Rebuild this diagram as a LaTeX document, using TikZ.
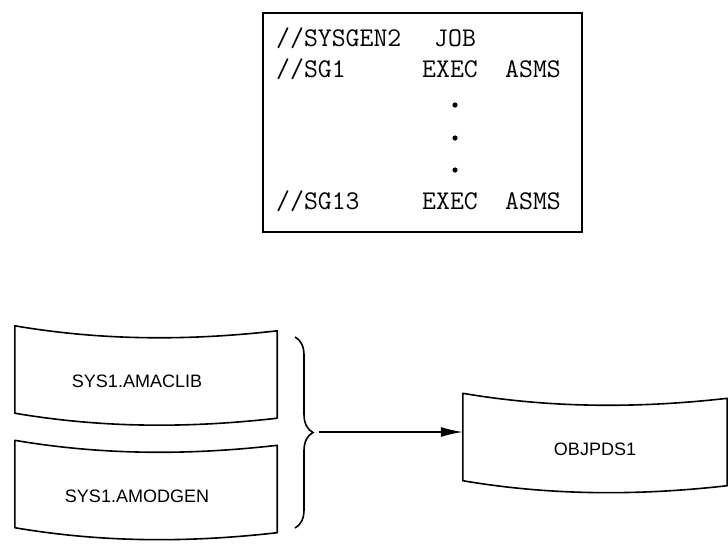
\documentclass[tikz,border=0pt]{standalone}
\usepackage{fontspec}
\setmainfont{Liberation Sans}
\usetikzlibrary{calc,arrows.meta,decorations.pathreplacing}

% outline of a data set card: curved top and bottom edges
\newcommand{\cardoutline}[1]{%
  \draw[cardline] ($(#1.north west)+(0,-12)$) .. controls +(88,15) and +(-88,10) .. ($(#1.north east)+(0,-7)$)
    -- ($(#1.south east)+(0,-7)$) .. controls +(-88,10) and +(88,15) .. ($(#1.south west)+(0,-12)$) -- cycle;}

\begin{document}
\begin{tikzpicture}[x=1pt, y=-1pt,
                    jclbox/.style={draw, line width=1.4pt, minimum width=319pt, minimum height=219pt},
                    jcl/.style={anchor=base west, inner sep=0pt, font=\ttfamily\fontsize{27}{28}\selectfont},
                    card/.style={minimum width=262pt, minimum height=87pt, inner sep=0pt, font=\fontsize{18}{18}\selectfont},
                    cardline/.style={line width=1.6pt, line join=round},
                    flow/.style={line width=1.4pt, -{Latex[length=22pt, width=10pt]}}]
\useasboundingbox (0,0) rectangle (728,550);

% job stream
\node[jclbox] (job) at (422.5,122.5) {};
\node[jcl] (l1a) at (276,46) {//SYSGEN2};
\node[jcl] (l1b) at (434,46) {JOB};
\node[jcl] (l2a) at (276,77) {//SG1};
\node[jcl] (l2b) at (422,77) {EXEC};
\node[jcl] (l2c) at (505,77) {ASMS};
\node[jcl] (l3a) at (276,209) {//SG13};
\node[jcl] (l3b) at (422,209) {EXEC};
\node[jcl] (l3c) at (505,209) {ASMS};
\foreach \y in {105,138,170}
    \fill (455,\y) circle (2.6pt);

% data sets
\node[card] (amaclib) at (146,381.5) {\hspace*{-18pt}SYS1.AMACLIB};
\node[card] (amodgen) at (146,496) {\hspace*{-18pt}SYS1.AMODGEN};
\node[card, minimum width=264pt] (objpds) at (595,449) {OBJPDS1};
\cardoutline{amaclib}
\cardoutline{amodgen}
\cardoutline{objpds}

\coordinate (bracetop) at (295,337);
\coordinate (bracebot) at (295,528);
\coordinate (bracetip) at (314,432);
\draw[line width=1.6pt, decorate, decoration={brace, amplitude=18pt}] (bracetop) -- (bracebot);
\draw[flow, shorten <=5pt] (bracetip) -- (bracetip -| objpds.west);
\end{tikzpicture}
\end{document}
